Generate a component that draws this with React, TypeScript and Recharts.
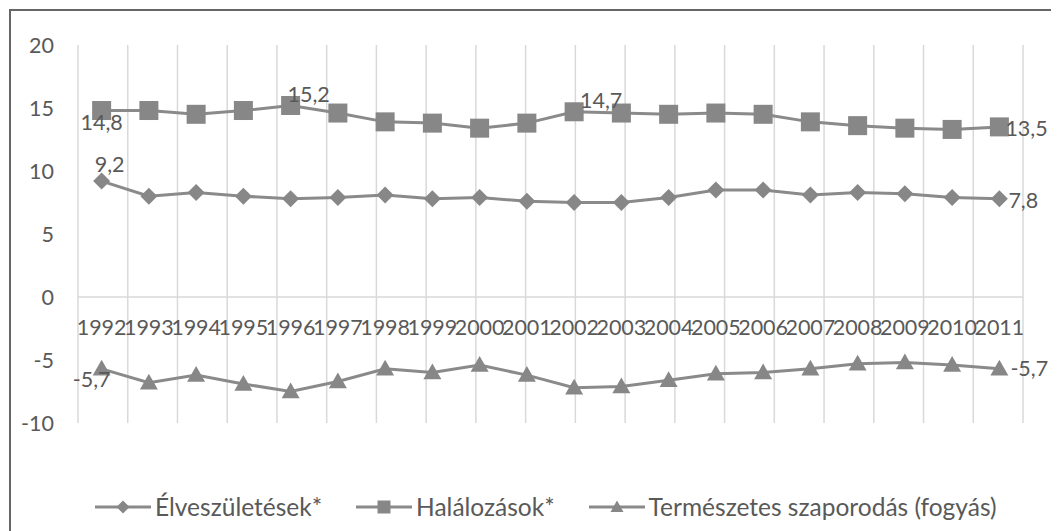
import React from 'react';
import { LineChart, Line, XAxis, YAxis, CartesianGrid, ReferenceLine, Legend, LabelList } from 'recharts';

const years = ['1992', '1993', '1994', '1995', '1996', '1997', '1998', '1999', '2000', '2001', '2002', '2003', '2004', '2005', '2006', '2007', '2008', '2009', '2010', '2011'];
const births = [9.2, 8.0, 8.3, 8.0, 7.8, 7.9, 8.1, 7.8, 7.9, 7.6, 7.5, 7.5, 7.9, 8.5, 8.5, 8.1, 8.3, 8.2, 7.9, 7.8];
const deaths = [14.8, 14.8, 14.5, 14.8, 15.2, 14.6, 13.9, 13.8, 13.4, 13.8, 14.7, 14.6, 14.5, 14.6, 14.5, 13.9, 13.6, 13.4, 13.3, 13.5];
const natural = [-5.7, -6.8, -6.2, -6.9, -7.5, -6.7, -5.7, -6.0, -5.4, -6.2, -7.2, -7.1, -6.6, -6.1, -6.0, -5.7, -5.3, -5.2, -5.4, -5.7];
const seriesNames = ['Élveszületések*', 'Halálozások*', 'Természetes szaporodás (fogyás)'];
const yTicks = [-10, -5, 0, 5, 10, 15, 20];
const Y_MIN = -10;
const Y_MAX = 20;

const data = years.map((year, i) => ({ year, births: births[i], deaths: deaths[i], natural: natural[i] }));
const gridTicks = Array.from({ length: years.length + 1 }, (_, i) => i);

const CHART_W = 1050;
const CHART_H = 530;
const MARGIN = { top: 34, right: 38, left: 0, bottom: 88 };
const Y_AXIS_W = 67;
const X_AXIS_H = 30;
const PLOT_W = CHART_W - MARGIN.left - MARGIN.right - Y_AXIS_W;
const PLOT_H = CHART_H - MARGIN.top - MARGIN.bottom - X_AXIS_H;
const HALF_BAND = PLOT_W / (2 * years.length);
const ZERO_FROM_BOTTOM = (PLOT_H * (0 - Y_MIN)) / (Y_MAX - Y_MIN);

const TEXT = '#595959';
const LINE = '#8a8a8a';
const MARK = '#878787';
const GRID = '#d9d9d9';
const FONT = 'Lato, "Open Sans", sans-serif';
const FS = 21.5;
const LEGEND_FS = 24.5;

const fmt = (v: number) => String(v).replace('.', ',');

const Diamond = (props: any) => {
  const { cx, cy, size = 8.5 } = props;
  if (cx == null || cy == null) return null;
  return <polygon points={`${cx},${cy - size} ${cx + size},${cy} ${cx},${cy + size} ${cx - size},${cy}`} fill={MARK} />;
};
const Square = (props: any) => {
  const { cx, cy, size = 9.5 } = props;
  if (cx == null || cy == null) return null;
  return <rect x={cx - size} y={cy - size} width={2 * size} height={2 * size} fill={MARK} />;
};
const Triangle = (props: any) => {
  const { cx, cy, size = 9 } = props;
  if (cx == null || cy == null) return null;
  return <polygon points={`${cx},${cy - size} ${cx + size},${cy + size * 0.75} ${cx - size},${cy + size * 0.75}`} fill={MARK} />;
};

type Spec = { index: number; dx: number; dy: number; anchor: 'start' | 'middle' | 'end' };

const makeLabel = (specs: Spec[]) => (props: any) => {
  const { index, value } = props;
  const x = props.x ?? props.viewBox?.x;
  const y = props.y ?? props.viewBox?.y;
  const s = specs.find((sp) => sp.index === index);
  if (!s || x == null || y == null) return null;
  return (
    <text x={x + s.dx} y={y + s.dy} textAnchor={s.anchor} dominantBaseline="central" fill={TEXT} fontSize={FS} fontFamily={FONT}>
      {fmt(value)}
    </text>
  );
};

const last = years.length - 1;
const birthLabels: Spec[] = [
  { index: 0, dx: 8, dy: -17, anchor: 'middle' },
  { index: last, dx: 9, dy: 1, anchor: 'start' },
];
const deathLabels: Spec[] = [
  { index: 0, dx: 0, dy: 11, anchor: 'middle' },
  { index: 4, dx: 18, dy: -11, anchor: 'middle' },
  { index: 10, dx: 27, dy: -12, anchor: 'middle' },
  { index: last, dx: 6, dy: 1, anchor: 'start' },
];
const naturalLabels: Spec[] = [
  { index: 0, dx: -10, dy: 10, anchor: 'middle' },
  { index: last, dx: 11, dy: -1, anchor: 'start' },
];

const XTick = (props: any) => {
  const { x, y, payload } = props;
  return (
    <text x={x} y={y - ZERO_FROM_BOTTOM + 30} textAnchor="middle" dominantBaseline="central" fill={TEXT} fontSize={FS} fontFamily={FONT}>
      {payload.value}
    </text>
  );
};

const shapes = [Diamond, Square, Triangle];

const LegendContent = () => (
  <div style={{ display: 'flex', alignItems: 'center', fontFamily: FONT, fontSize: LEGEND_FS, color: TEXT, whiteSpace: 'nowrap', lineHeight: '30px' }}>
    {seriesNames.map((name, i) => {
      const Shape = shapes[i];
      return (
        <div key={name} style={{ display: 'flex', alignItems: 'center', marginRight: 34 }}>
          <svg width={56} height={20} style={{ marginRight: 4 }}>
            <line x1={0} y1={10} x2={56} y2={10} stroke={LINE} strokeWidth={3} />
            <Shape cx={28} cy={10} size={6.5} />
          </svg>
          <span>{name}</span>
        </div>
      );
    })}
  </div>
);

export default function App() {
  return (
    <div style={{ marginLeft: 1, marginTop: 1, width: 1060, height: 540, border: '2px solid #666', boxSizing: 'border-box', background: '#fff', overflow: 'hidden' }}>
      <style>{'body{overflow:hidden}'}</style>
      <LineChart width={CHART_W} height={CHART_H} data={data} margin={MARGIN}>
        <XAxis xAxisId="grid" type="number" domain={[0, years.length]} ticks={gridTicks} hide />
        <CartesianGrid xAxisId="grid" horizontal={false} stroke={GRID} strokeWidth={1.5} />
        <XAxis
          dataKey="year"
          interval={0}
          height={X_AXIS_H}
          axisLine={false}
          tickLine={false}
          tickSize={0}
          tickMargin={0}
          padding={{ left: HALF_BAND, right: HALF_BAND }}
          tick={<XTick />}
        />
        <YAxis
          width={Y_AXIS_W}
          domain={[Y_MIN, Y_MAX]}
          ticks={yTicks}
          axisLine={false}
          tickLine={false}
          tickSize={0}
          tickMargin={24}
          tick={{ fill: TEXT, fontSize: FS, fontFamily: FONT }}
        />
        <ReferenceLine y={0} stroke={GRID} strokeWidth={1.5} />
        <Legend layout="horizontal" verticalAlign="middle" align="center" content={<LegendContent />} wrapperStyle={{ top: 481, left: 84, width: 'auto' }} />
        <Line dataKey="births" name={seriesNames[0]} stroke={LINE} strokeWidth={3} dot={<Diamond />} activeDot={false} isAnimationActive={false}>
          <LabelList dataKey="births" content={makeLabel(birthLabels)} />
        </Line>
        <Line dataKey="deaths" name={seriesNames[1]} stroke={LINE} strokeWidth={3} dot={<Square />} activeDot={false} isAnimationActive={false}>
          <LabelList dataKey="deaths" content={makeLabel(deathLabels)} />
        </Line>
        <Line dataKey="natural" name={seriesNames[2]} stroke={LINE} strokeWidth={3} dot={<Triangle />} activeDot={false} isAnimationActive={false}>
          <LabelList dataKey="natural" content={makeLabel(naturalLabels)} />
        </Line>
      </LineChart>
    </div>
  );
}
